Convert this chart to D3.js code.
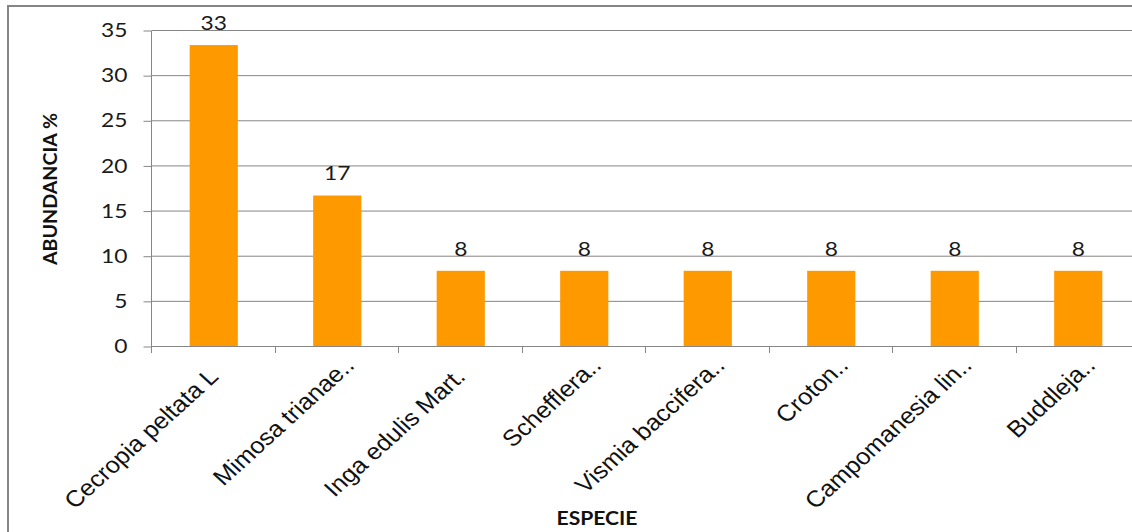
<!DOCTYPE html>
<html>
<head>
<meta charset="utf-8">
<script src="https://cdn.jsdelivr.net/npm/d3@7"></script>
<style>
  html, body { margin: 0; padding: 0; background: #fff; }
  svg { display: block; }
</style>
</head>
<body>
<svg id="chart" width="1132" height="532"></svg>
<script>
// Species abundance (%)
const species = [
  "Cecropia peltata L",
  "Mimosa trianae..",
  "Inga edulis Mart.",
  "Schefflera..",
  "Vismia baccifera..",
  "Croton..",
  "Campomanesia lin..",
  "Buddleja.."
];
const abundance = [33.33, 16.67, 8.33, 8.33, 8.33, 8.33, 8.33, 8.33];
const yTicks = [0, 5, 10, 15, 20, 25, 30, 35];

const svg = d3.select("#chart");
const W = 1132, H = 532;
const plot = { left: 152, top: 30, right: 1140, bottom: 346 };
const SX = 1.2;            // horizontal widening of the numerals
const SXcat = 1.1;         // horizontal widening of the category names
const numFont = "Lato, 'Open Sans', sans-serif";
const catFont = "'Liberation Sans', Arial, sans-serif";

// Outer chart frame (runs past the right and bottom edges)
svg.append("rect")
  .attr("x", 8).attr("y", 6)
  .attr("width", W + 20).attr("height", H + 20)
  .attr("fill", "#fff")
  .attr("stroke", "#868686").attr("stroke-width", 2);

const x = d3.scaleBand().domain(species).range([plot.left, plot.right]);
const y = d3.scaleLinear().domain([0, 35]).range([plot.bottom, plot.top]);

// Horizontal gridlines
svg.append("g").selectAll("line").data(yTicks.filter(d => d > 0)).join("line")
  .attr("x1", plot.left).attr("x2", plot.right)
  .attr("y1", d => y(d) + 0.5).attr("y2", d => y(d) + 0.5)
  .attr("stroke", "#868686").attr("stroke-width", 1);

// Bars
const barW = x.step() * 0.39;
svg.append("g").selectAll("rect").data(abundance).join("rect")
  .attr("x", (d, i) => x(species[i]) + (x.step() - barW) / 2)
  .attr("y", d => y(d))
  .attr("width", barW)
  .attr("height", d => y(0) - y(d))
  .attr("fill", "#FF9900");

// Y axis
const yAxis = d3.axisLeft(y).tickValues(yTicks).tickSize(8).tickFormat(d3.format("d"));
const gy = svg.append("g").attr("transform", `translate(${plot.left - 0.5},0.5)`).call(yAxis);
gy.select(".domain").attr("stroke", "#868686").attr("d", `M0,${plot.top}V${plot.bottom}`);
gy.selectAll(".tick line").attr("stroke", "#868686");
gy.selectAll(".tick text")
  .attr("x", -24 / SX)
  .attr("transform", `scale(${SX},1)`)
  .attr("font-family", numFont)
  .attr("font-size", 19).attr("fill", "#1a1a1a");

// X axis
const xAxis = d3.axisBottom(x).tickSize(0).tickFormat("");
const gx = svg.append("g").attr("transform", `translate(0,${plot.bottom + 0.5})`).call(xAxis);
gx.select(".domain").attr("stroke", "#868686").attr("d", `M${plot.left - 1},0H${plot.right}`);
gx.selectAll(".tick").remove();
// Category separator ticks
svg.append("g").selectAll("line").data(species).join("line")
  .attr("x1", d => Math.round(x(d)) - 0.5).attr("x2", d => Math.round(x(d)) - 0.5)
  .attr("y1", plot.bottom).attr("y2", plot.bottom + 7)
  .attr("stroke", "#868686");

// Rotated category labels; shortened names keep room for a trailing ellipsis
svg.append("g").selectAll("text").data(species).join("text")
  .attr("transform", d => `translate(${x(d) + x.step() / 2 + 6},${plot.bottom + 32}) scale(${SXcat},1) rotate(-45)`)
  .attr("text-anchor", "end")
  .attr("dx", d => d.endsWith("..") ? 16 : 0)
  .attr("font-family", catFont)
  .attr("font-size", 23).attr("fill", "#111")
  .text(d => d);

// Value labels
svg.append("g").selectAll("text").data(abundance).join("text")
  .attr("transform", (d, i) => `translate(${x(species[i]) + x.step() / 2},${y(d) - 15}) scale(${SX},1)`)
  .attr("text-anchor", "middle")
  .attr("font-family", numFont)
  .attr("font-size", 19).attr("fill", "#1a1a1a")
  .text(d => d3.format(".0f")(d));

// Axis titles
svg.append("text")
  .attr("transform", `translate(57,189) rotate(-90)`)
  .attr("text-anchor", "middle")
  .attr("font-family", numFont)
  .attr("font-weight", "bold").attr("font-size", 18).attr("fill", "#111")
  .attr("textLength", 152).attr("lengthAdjust", "spacingAndGlyphs")
  .text("ABUNDANCIA %");

svg.append("text")
  .attr("x", 597).attr("y", 525)
  .attr("text-anchor", "middle")
  .attr("font-family", numFont)
  .attr("font-weight", "bold").attr("font-size", 18.5).attr("fill", "#111")
  .attr("textLength", 81).attr("lengthAdjust", "spacingAndGlyphs")
  .text("ESPECIE");
</script>
</body>
</html>
